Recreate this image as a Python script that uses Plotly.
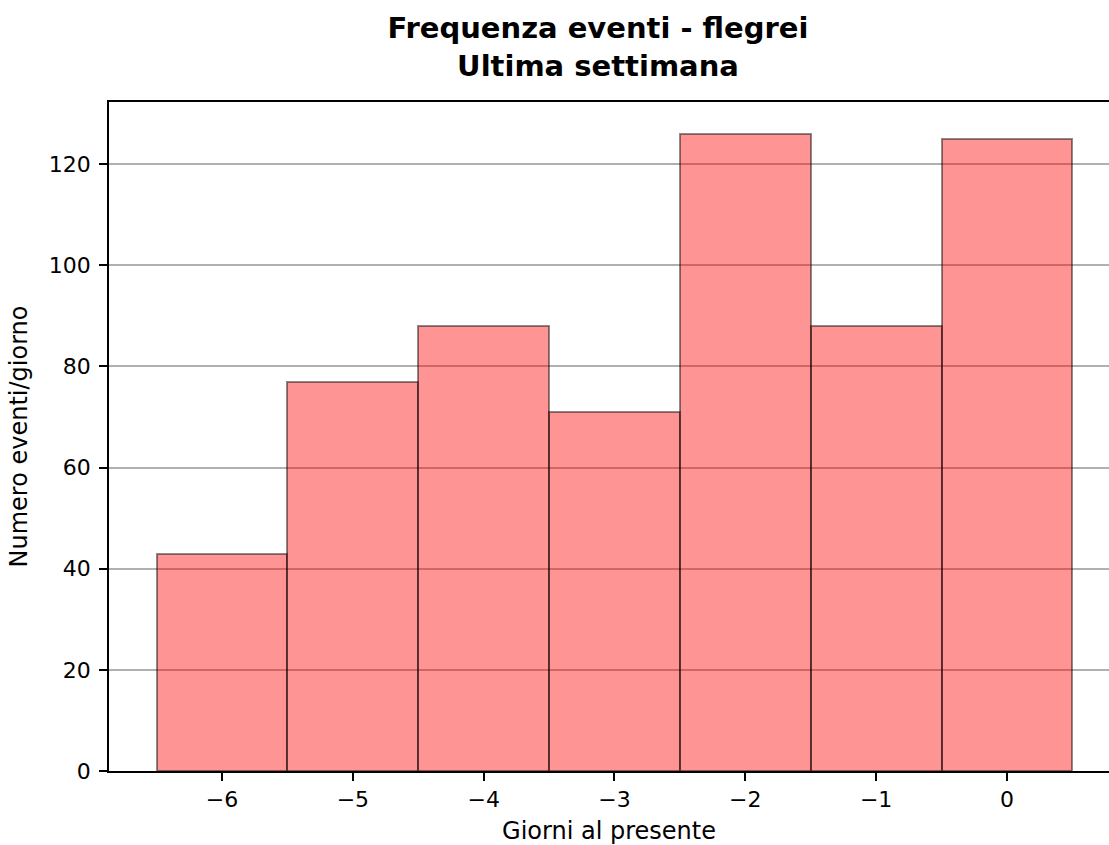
import plotly.graph_objects as go

days = [-6, -5, -4, -3, -2, -1, 0]
counts = [43, 77, 88, 71, 126, 88, 125]
y_ticks = [0, 20, 40, 60, 80, 100, 120]
x_ticks = [-6, -5, -4, -3, -2, -1, 0]
x_tick_labels = ["\u22126", "\u22125", "\u22124", "\u22123", "\u22122", "\u22121", "0"]

FONT = "DejaVu Sans"

fig = go.Figure()
fig.add_trace(go.Bar(
    x=days, y=counts, width=1,
    marker=dict(color="rgba(255,0,0,0.42)",
                line=dict(color="rgba(0,0,0,0.45)", width=2)),
))

fig.update_layout(
    width=1109, height=845,
    paper_bgcolor="white", plot_bgcolor="white",
    margin=dict(l=109, r=0, t=102, b=74),
    showlegend=False,
    font=dict(family=FONT, size=22, color="black"),
    title=dict(
        text="<b>Frequenza eventi - flegrei<br>Ultima settimana</b>",
        x=598 / 1109, xanchor="center", y=1 - 38 / 845, yanchor="middle",
        font=dict(family=FONT, size=29, color="black"),
    ),
    bargap=0,
)
fig.update_xaxes(
    range=[-6.864, 0.78],
    tickvals=x_ticks, ticktext=x_tick_labels,
    tickfont=dict(size=22),
    showline=True, linecolor="black", linewidth=1.5, mirror=True,
    ticks="outside", ticklen=8, tickwidth=1.5, tickcolor="black",
    showgrid=False, zeroline=False, automargin=False,
    title=dict(text="Giorni al presente", standoff=12, font=dict(size=24)),
)
fig.update_yaxes(
    range=[0, 132.3],
    tickvals=y_ticks,
    tickfont=dict(size=22),
    showline=True, linecolor="black", linewidth=1.5,
    ticks="outside", ticklen=8, tickwidth=1.5, tickcolor="black",
    ticklabelstandoff=4,
    showgrid=True, gridcolor="#b0b0b0", gridwidth=1.5,
    zeroline=False, layer="above traces", automargin=False,
    title=dict(text="Numero eventi/giorno", standoff=14, font=dict(size=24)),
)

fig.write_html("out.html", config={"displayModeBar": False},
               post_script="document.body.style.margin='0';document.body.style.overflow='hidden';")
